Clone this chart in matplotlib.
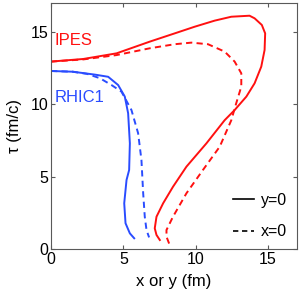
import matplotlib
matplotlib.use("Agg")
import matplotlib.pyplot as plt
from matplotlib.lines import Line2D

plt.rcParams['font.family'] = ['Liberation Sans', 'DejaVu Sans']

# RHIC1, y=0 (solid) and x=0 (dashed)
rhic_y0_x = [0.0, 1.5, 3.03, 3.95, 4.64, 5.1, 5.33, 5.45, 5.4, 5.22, 5.06, 5.15, 5.45, 5.75]
rhic_y0_t = [12.3, 12.25, 12.05, 11.9, 11.33, 10.53, 9.38, 7.3, 5.46, 4.77, 3.16, 1.78, 1.08, 0.74]
rhic_x0_x = [0.0, 1.5, 2.5, 3.38, 4.18, 4.87, 5.56, 6.02, 6.25, 6.37, 6.48, 6.6, 6.78]
rhic_x0_t = [12.3, 12.25, 12.1, 11.8, 11.33, 10.87, 9.6, 8.0, 6.15, 3.85, 2.23, 1.31, 0.8]

# IPES, y=0 (solid) and x=0 (dashed)
ipes_y0_x = [0.0, 2.23, 4.53, 6.83, 8.55, 9.93, 11.31, 12.46, 13.72, 14.07, 14.57, 14.8,
             14.76, 14.53, 14.07, 13.5, 12.69, 12.0, 10.74, 9.36, 8.43, 7.75, 7.29, 7.17,
             7.29, 7.52]
ipes_y0_t = [12.95, 13.13, 13.52, 14.33, 14.9, 15.36, 15.78, 16.05, 16.12, 15.94, 15.48, 14.9,
             13.75, 12.6, 11.45, 10.53, 9.6, 8.9, 7.3, 5.69, 4.3, 3.16, 2.23, 1.43,
             0.97, 0.62]
ipes_x0_x = [0.0, 2.23, 4.53, 6.83, 8.55, 9.7, 10.85, 12.0, 12.69, 13.15, 13.15, 12.8, 12.46,
             11.66, 10.5, 9.36, 8.43, 7.98, 7.98, 8.2]
ipes_x0_t = [12.95, 13.1, 13.4, 13.87, 14.15, 14.26, 14.15, 13.64, 12.95, 12.14, 11.22, 10.07,
             8.9, 7.07, 5.46, 3.85, 2.23, 1.31, 0.85, 0.28]

ticks = [0, 5, 10, 15]
red = '#ff1010'
blue = '#2a4cff'

fig = plt.figure(figsize=(3.0, 2.92), dpi=100)
ax = fig.add_axes([0.17, 0.1473, 0.82, 0.8425])

dash = (0, (3.2, 2.2))
ax.plot(ipes_y0_x, ipes_y0_t, color=red, lw=1.4)
ax.plot(ipes_x0_x, ipes_x0_t, color=red, lw=1.4, linestyle=dash)
ax.plot(rhic_y0_x, rhic_y0_t, color=blue, lw=1.4)
ax.plot(rhic_x0_x, rhic_x0_t, color=blue, lw=1.4, linestyle=dash)

ax.text(0.25, 14.4, 'IPES', color=red, fontsize=12, va='center')
ax.text(0.25, 10.5, 'RHIC1', color=blue, fontsize=12, va='center')

handles = [Line2D([], [], color='black', lw=1.2),
           Line2D([], [], color='black', lw=1.2, linestyle=dash)]
ax.legend(handles, ['y=0', 'x=0'], loc='lower right', frameon=False, fontsize=11.5,
          handlelength=1.35, handletextpad=0.45, labelspacing=1.05,
          borderaxespad=0.2)

ax.set_xlim(0, 17)
ax.set_ylim(0, 17)
ax.set_xticks(ticks)
ax.set_yticks(ticks)
ax.tick_params(direction='in', top=True, right=True, labelsize=11.5, length=3,
               color='0.35', pad=2)
for s in ax.spines.values():
    s.set_color('0.35')
    s.set_linewidth(0.8)
ax.set_xlabel('x or y (fm)', fontsize=12, labelpad=5)
ax.set_ylabel('τ (fm/c)', fontsize=12, labelpad=6)

fig.savefig('out.png', dpi=100)
